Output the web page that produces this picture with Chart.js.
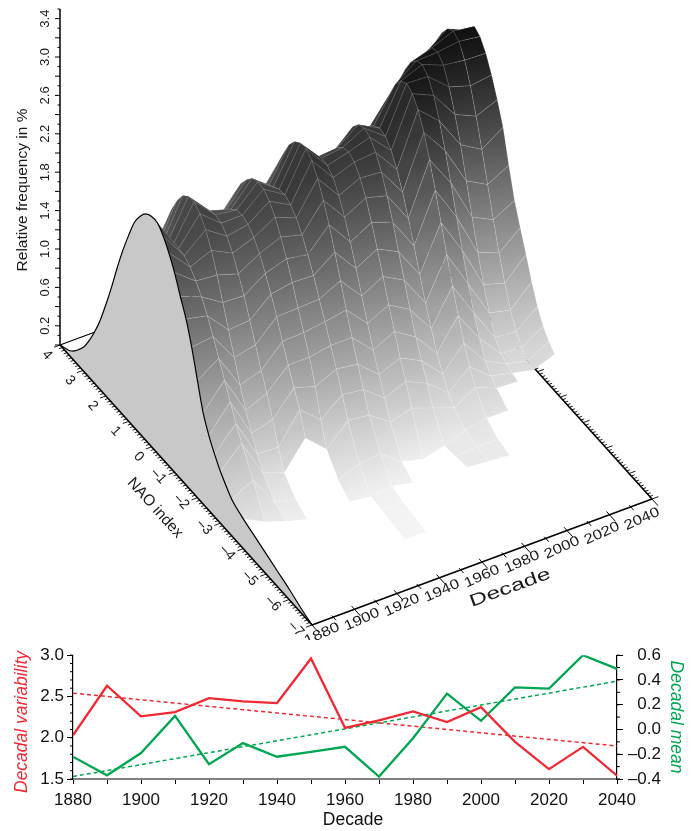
<!DOCTYPE html>
<html>
<head>
<meta charset="utf-8">
<title>NAO index by decade</title>
<script src="https://cdn.jsdelivr.net/npm/chart.js@4"></script>
<style>
  html, body { margin: 0; padding: 0; background: #fff; }
  canvas { display: block; }
</style>
</head>
<body>
<canvas id="surfaceChart" width="694" height="640"></canvas>
<canvas id="lineChart" width="694" height="191"></canvas>
<script>
// ---- data ----
const decades = [1880,1890,1900,1910,1920,1930,1940,1950,1960,1970,1980,1990,2000,2010,2020,2030,2040];
const decadalVariability = [2.03,2.63,2.26,2.31,2.48,2.44,2.42,2.96,2.12,2.21,2.32,2.19,2.37,1.95,1.62,1.89,1.54];
const decadalMean = [-0.22,-0.37,-0.19,0.11,-0.28,-0.11,-0.22,-0.18,-0.14,-0.38,-0.07,0.29,0.07,0.34,0.33,0.60,0.49];
const trendYears = [1880,2040];
const variabilityTrend = [2.54,1.90];
const meanTrend = [-0.38,0.39];

// NAO index positions of the surface sections
const naoGrid = [4,3.5,3,2.75,2.5,2.25,2,1.75,1.5,1.25,1,.75,.5,.25,0,-.25,-.5,-.75,-1,-1.25,-1.5,-1.75,-2,-2.25,-2.5,-2.75,-3,-3.5,-4,-4.5,-5,-5.5,-6,-6.5,-7];
// relative frequency in % per decade, sections stop where the surface stops
const freq1880 = [0,.07,.24,.37,.53,.72,.95,1.2,1.47,1.72,1.94,2.14,2.27,2.36,2.40,2.40,2.33,2.22,2.08,1.9,1.73,1.5,1.22,.95,.78,.65,.54,.38,.31,.26,.21,.16,.11,.05,0];
const freq1890 = [.02,.2,.45,.56,.70,.83,.99,1.14,1.31,1.47,1.62,1.76,1.88,1.97,2.02,2.05,2.04,1.99,1.91,1.81,1.68,1.53,1.37,1.21,1.05,.89,.75,.50,.20];
const freq1900 = [.03,.2,.46,.61,.78,.97,1.18,1.41,1.63,1.84,2.04,2.20,2.32,2.38,2.39,2.33,2.23,2.08,1.89,1.67,1.45,1.23,1.01,.81,.64,.49,.36,.19,.12];
const freq1910 = [.03,.2,.46,.59,.74,.91,1.08,1.28,1.47,1.66,1.82,1.97,2.08,2.15,2.17,2.15,2.08,1.97,1.82,1.66,1.47,1.28,1.08,.91,.70,.48,.28,.14,.06];
const freq1920 = [.03,.2,.44,.56,.70,.85,1.02,1.20,1.38,1.55,1.72,1.87,1.99,2.08,2.14,2.15,2.12,2.05,1.95,1.81,1.66,1.49,1.30,1.12,.95,.79,.56];
const freq1930 = [.04,.25,.56,.70,.86,1.04,1.23,1.43,1.62,1.81,1.98,2.13,2.24,2.32,2.35,2.34,2.28,2.18,2.04,1.88,1.70,1.50,1.31,1.12,.88,.60,.36,.18,.08];
const freq1940 = [.04,.24,.52,.64,.79,.95,1.12,1.29,1.48,1.65,1.81,1.96,2.07,2.15,2.19,2.20,2.16,2.09,1.98,1.84,1.69,1.51,1.34,1.16,.98,.78,.58,.26,.05,.04,.02,0];
const freq1950 = [.04,.22,.52,.67,.84,1.03,1.24,1.46,1.68,1.90,2.11,2.28,2.44,2.54,2.59,2.60,2.54,2.42,2.26,2.07,1.85,1.62,1.38,1.16,.95,.75,.55,.28,.08,.04,.02,0];
const freq1960 = [.03,.16,.36,.48,.63,.80,1.00,1.21,1.43,1.65,1.86,2.04,2.19,2.29,2.35,2.34,2.28,2.16,2.00,1.81,1.60,1.38,1.16,.95,.76,.58,.40,.12,.03];
const freq1970 = [.03,.15,.32,.44,.58,.74,.93,1.14,1.37,1.59,1.81,2.01,2.18,2.31,2.38,2.40,2.36,2.26,2.12,1.93,1.72,1.50,1.27,1.06,.85,.67,.46,.06];
const freq1980 = [.04,.2,.43,.57,.74,.92,1.14,1.38,1.61,1.85,2.06,2.24,2.38,2.47,2.50,2.47,2.38,2.24,2.06,1.85,1.61,1.38,1.14,.92,.74,.57,.38,.12,.14,.16];
const freq1990 = [.05,.22,.46,.61,.78,.98,1.20,1.43,1.65,1.87,2.06,2.21,2.31,2.35,2.33,2.25,2.12,1.95,1.74,1.52,1.29,1.06,.86,.67,.52,.39,.30,.20,.16,.14];
const freq2000 = [.04,.2,.43,.58,.76,.98,1.22,1.48,1.75,2.02,2.27,2.49,2.66,2.76,2.80,2.76,2.66,2.49,2.27,2.02,1.75,1.48,1.22,.98,.76,.58,.43,.24,.15,.12];
const freq2010 = [.06,.26,.56,.75,.98,1.24,1.53,1.83,2.10,2.36,2.60,2.74,2.82,2.85,2.79,2.66,2.46,2.22,1.95,1.66,1.38,1.10,.86,.66,.49,.40,.34,.24];
const freq2020 = [.06,.3,.67,.89,1.13,1.41,1.72,2.02,2.30,2.52,2.70,2.81,2.83,2.76,2.60,2.38,2.13,1.82,1.51,1.21,.94,.71,.52,.42,.38,.35,.33];
const freq2030 = [.12,.4,.90,1.15,1.45,1.75,2.05,2.33,2.57,2.75,2.86,2.90,2.86,2.73,2.53,2.28,2.00,1.70,1.40,1.12,.87,.66,.50,.40,.33,.30];
const freq2040 = [.12,.28,.75,.98,1.25,1.52,1.80,2.08,2.35,2.58,2.76,2.87,2.83,2.72,2.56,2.37,2.15,1.82,1.52,1.30,1.09,.87,.68,.54,.45,.38];
const surface = [freq1880,freq1890,freq1900,freq1910,freq1920,freq1930,freq1940,freq1950,freq1960,freq1970,freq1980,freq1990,freq2000,freq2010,freq2020,freq2030,freq2040];

// axis tick labels
const freqTickLabels = ['0.2','0.6','1.0','1.4','1.8','2.2','2.6','3.0','3.4'];
const naoTickLabels = [4,3,2,1,0,-1,-2,-3,-4,-5,-6,-7];
const decadeTickLabels = [1880,1900,1920,1940,1960,1980,2000,2020,2040];

const surfaceCtx = document.getElementById('surfaceChart').getContext('2d');

// ---- oblique view of the box: decade, NAO index, frequency -> view plane ----
function project(decade, nao, freq) {
    const d = (decade - 1880) / 160;
    const n = (4 - nao) / 11;
    return { x: 60 + 252 * n + 340 * d, y: 345 + 280 * n - 126 * d - 96 * freq };
}

function segments(list) {
    // list of [from, to] pairs, broken with NaN so one dataset can hold them all
    const out = [];
    list.forEach(s => { out.push(s[0], s[1], { x: NaN, y: NaN }); });
    return out;
}

function lineSet(data, width) {
    return { data: data, showLine: true, pointRadius: 0, borderColor: '#000', borderWidth: width, fill: false, tension: 0, spanGaps: false };
}

function grayFor(freq) {
    const g = Math.round(255 * Math.max(0.03, 0.96 - 0.31 * freq));
    return 'rgb(' + g + ',' + g + ',' + g + ')';
}

function range(from, to, step) {
    const out = [];
    const count = Math.round((to - from) / step);
    for (let i = 0; i <= count; i++) out.push(from + i * step);
    return out;
}

function cellFill(p1, p2, p3, p4, upper, lower) {
    // the view plane maps 1:1 on the canvas, so the shade can run from edge to edge of the cell
    const g = surfaceCtx.createLinearGradient((p1.x + p2.x) / 2, (p1.y + p2.y) / 2, (p3.x + p4.x) / 2, (p3.y + p4.y) / 2);
    g.addColorStop(0, grayFor(upper));
    g.addColorStop(1, grayFor(lower));
    return g;
}

const backSets = [];
const cellSets = [];
const frontSets = [];

// back edges, the surface hides most of them
backSets.push(lineSet([project(1880, 4, 0), project(2040, 4, 0)], 1.3));
backSets.push(lineSet([project(2040, 4, 0), project(2040, -7, 0)], 1.6));
backSets.push(lineSet(segments(range(-7, 4, 0.1).map((n, k) => {
    const len = k % 10 === 0 ? 3 : 1.5;
    return [project(2040, n, 0), project(2040 + len, n, 0)];
})), 0.9));

// surface cells, painted from the far corner to the near one
for (let i = decades.length - 2; i >= 0; i--) {
    const a = surface[i], b = surface[i + 1];
    const last = Math.min(a.length, b.length) - 1;
    for (let j = 2; j < last; j++) {
        const p1 = project(decades[i], naoGrid[j], a[j]);
        const p2 = project(decades[i + 1], naoGrid[j], b[j]);
        const p3 = project(decades[i + 1], naoGrid[j + 1], b[j + 1]);
        const p4 = project(decades[i], naoGrid[j + 1], a[j + 1]);
        cellSets.push({
            data: [p1, p2, p3, p4, p1],
            showLine: true, pointRadius: 0, tension: 0, fill: 'shape',
            backgroundColor: cellFill(p1, p2, p3, p4, (a[j] + b[j]) / 2, (a[j + 1] + b[j + 1]) / 2),
            borderColor: 'rgba(255,255,255,0.26)', borderWidth: 0.5
        });
    }
}

// front section of 1880
frontSets.push({
    data: naoGrid.map((n, j) => project(1880, n, freq1880[j])),
    showLine: true, pointRadius: 0, tension: 0.3, fill: 'shape',
    backgroundColor: '#c8c8c8', borderColor: '#000', borderWidth: 1.2
});

// front axes
frontSets.push(lineSet([project(1880, 4, 0), project(1880, -7, 0)], 1.6));
frontSets.push(lineSet([project(1880, -7, 0), project(2040, -7, 0)], 1.6));
frontSets.push(lineSet([project(1880, 4, 0), project(1880, 4, 3.5)], 1.5));
frontSets.push(lineSet(segments(range(-7, 4, 0.1).map((n, k) => {
    const len = k % 10 === 0 ? 2.8 : 1.5;
    return [project(1880, n, 0), project(1880 - len, n, 0)];
})), 0.9));
frontSets.push(lineSet(segments(range(1880, 2040, 10).map((d, k) => {
    const len = k % 2 === 0 ? 0.26 : 0.13;
    return [project(d, -7 + len / 2, 0), project(d, -7 - len, 0)];
})), 1));
frontSets.push(lineSet(segments(range(0, 3.5, 0.1).map((z, k) => {
    const p = project(1880, 4, z);
    const len = k % 2 === 0 ? 5 : 2.5;
    return [{ x: p.x, y: p.y }, { x: p.x - len, y: p.y }];
})), 1));

// first dataset is painted last in Chart.js
const surfaceSets = backSets.concat(cellSets, frontSets).reverse();

function drawText(ctx, text, x, y, angle, font, stretch, color) {
    ctx.save();
    ctx.translate(x, y);
    ctx.rotate(angle * Math.PI / 180);
    ctx.scale(stretch, 1);
    ctx.font = font;
    ctx.textAlign = 'center';
    ctx.textBaseline = 'middle';
    ctx.fillStyle = color || '#1a1a1a';
    ctx.fillText(text, 0, 0);
    ctx.restore();
}

const boxLabels = {
    id: 'boxLabels',
    afterDraw(chart) {
        const ctx = chart.ctx;
        const px = p => ({ x: chart.scales.x.getPixelForValue(p.x), y: chart.scales.y.getPixelForValue(p.y) });
        const sans = '"Liberation Sans", Arial, sans-serif';
        freqTickLabels.forEach(t => {
            const p = px(project(1880, 4, parseFloat(t)));
            drawText(ctx, t, p.x - 15, p.y, -90, '13px ' + sans, 1);
        });
        naoTickLabels.forEach(n => {
            const p = px(project(1880, n, 0));
            const text = n < 0 ? '\u2013' + (-n) : String(n);
            const ox = n < 0 ? -16 : -13;
            const oy = n < 0 ? 4 : 10;
            drawText(ctx, text, p.x + ox, p.y + oy, 48, '14px ' + sans, 1);
        });
        decadeTickLabels.forEach(d => {
            const f = (d - 1880) / 160;
            const p = px(project(d, -7, 0));
            drawText(ctx, String(d), p.x + 10 - 20 * f, p.y + 9 + 11 * f, -24, '14px ' + sans, 1.2);
        });
        drawText(ctx, 'Relative frequency in %', 23, 190, -90, '15.5px ' + sans, 1);
        drawText(ctx, 'NAO index', 155, 508, 48, '15.5px ' + sans, 1);
        drawText(ctx, 'Decade', 510, 588, -20, '17px ' + sans, 1.45);
    }
};

new Chart(surfaceCtx, {
    type: 'scatter',
    data: { datasets: surfaceSets },
    options: {
        responsive: false,
        animation: false,
        events: [],
        layout: { padding: 0 },
        plugins: { legend: { display: false }, tooltip: { enabled: false } },
        scales: {
            x: { type: 'linear', min: 0, max: 694, display: false },
            y: { type: 'linear', min: 0, max: 640, reverse: true, display: false }
        }
    },
    plugins: [boxLabels]
});

// ---- lower panel ----
const redColor = '#ee2a35';
const greenColor = '#00a651';
const panelFont = { family: '"Liberation Sans", Arial, sans-serif', size: 17 };

function pairs(xs, ys) {
    return xs.map((x, i) => ({ x: x, y: ys[i] }));
}

const panelExtras = {
    id: 'panelExtras',
    afterDraw(chart) {
        const ctx = chart.ctx;
        const left = chart.scales.y, right = chart.scales.y1;
        ctx.save();
        ctx.strokeStyle = '#000';
        ctx.lineWidth = 1;
        range(1.5, 3, 0.1).forEach(v => {
            const y = left.getPixelForValue(v);
            ctx.beginPath(); ctx.moveTo(left.right, y); ctx.lineTo(left.right - 3, y); ctx.stroke();
        });
        range(-0.4, 0.6, 0.1).forEach(v => {
            const y = right.getPixelForValue(v);
            ctx.beginPath(); ctx.moveTo(right.left, y); ctx.lineTo(right.left + 3, y); ctx.stroke();
        });
        ctx.restore();
        const font = '17.5px "Liberation Sans", Arial, sans-serif';
        drawText(ctx, 'Decade', 353, 180, 0, font, 1, '#111');
        drawText(ctx, 'Decadal variability', 22, 82, -90, 'italic ' + font, 1, redColor);
        drawText(ctx, 'Decadal mean', 676, 77, 90, 'italic ' + font, 1, greenColor);
    }
};

new Chart(document.getElementById('lineChart').getContext('2d'), {
    type: 'scatter',
    data: {
        datasets: [
            { data: pairs(decades, decadalVariability), yAxisID: 'y', showLine: true, pointRadius: 0, borderColor: redColor, borderWidth: 2.3, tension: 0 },
            { data: pairs(decades, decadalMean), yAxisID: 'y1', showLine: true, pointRadius: 0, borderColor: greenColor, borderWidth: 2.3, tension: 0 },
            { data: pairs(trendYears, variabilityTrend), yAxisID: 'y', showLine: true, pointRadius: 0, borderColor: redColor, borderWidth: 1.5, borderDash: [4, 3], tension: 0 },
            { data: pairs(trendYears, meanTrend), yAxisID: 'y1', showLine: true, pointRadius: 0, borderColor: greenColor, borderWidth: 1.5, borderDash: [4, 3], tension: 0 }
        ]
    },
    options: {
        responsive: false,
        animation: false,
        events: [],
        layout: { padding: { top: 14, left: 0, right: 33, bottom: 0 } },
        plugins: { legend: { display: false }, tooltip: { enabled: false } },
        scales: {
            x: {
                type: 'linear', min: 1880, max: 2040,
                border: { color: '#808080', width: 2 },
                grid: { drawOnChartArea: false, tickLength: 5, tickColor: '#000' },
                ticks: {
                    stepSize: 10, maxRotation: 0, autoSkip: false, padding: 6, color: '#111', font: panelFont,
                    callback: v => (v % 20 === 0 ? String(v) : '')
                },
                afterFit(scale) { scale.height = 52; }
            },
            y: {
                position: 'left', min: 1.5, max: 3,
                border: { color: '#000', width: 1.2 },
                grid: { drawOnChartArea: false, tickLength: 6, tickColor: '#000' },
                ticks: { stepSize: 0.5, padding: 3, color: '#111', font: panelFont, callback: v => v.toFixed(1) },
                afterFit(scale) { scale.width = 73; }
            },
            y1: {
                position: 'right', min: -0.4, max: 0.6,
                border: { color: '#000', width: 1.2 },
                grid: { drawOnChartArea: false, tickLength: 6, tickColor: '#000' },
                ticks: {
                    stepSize: 0.2, padding: 5, crossAlign: 'far', color: '#111', font: panelFont,
                    callback: v => (v < -0.01 ? '\u2013' + Math.abs(v).toFixed(1) : Math.abs(v).toFixed(1))
                },
                afterFit(scale) { scale.width = 44; }
            }
        }
    },
    plugins: [panelExtras]
});
</script>
</body>
</html>
